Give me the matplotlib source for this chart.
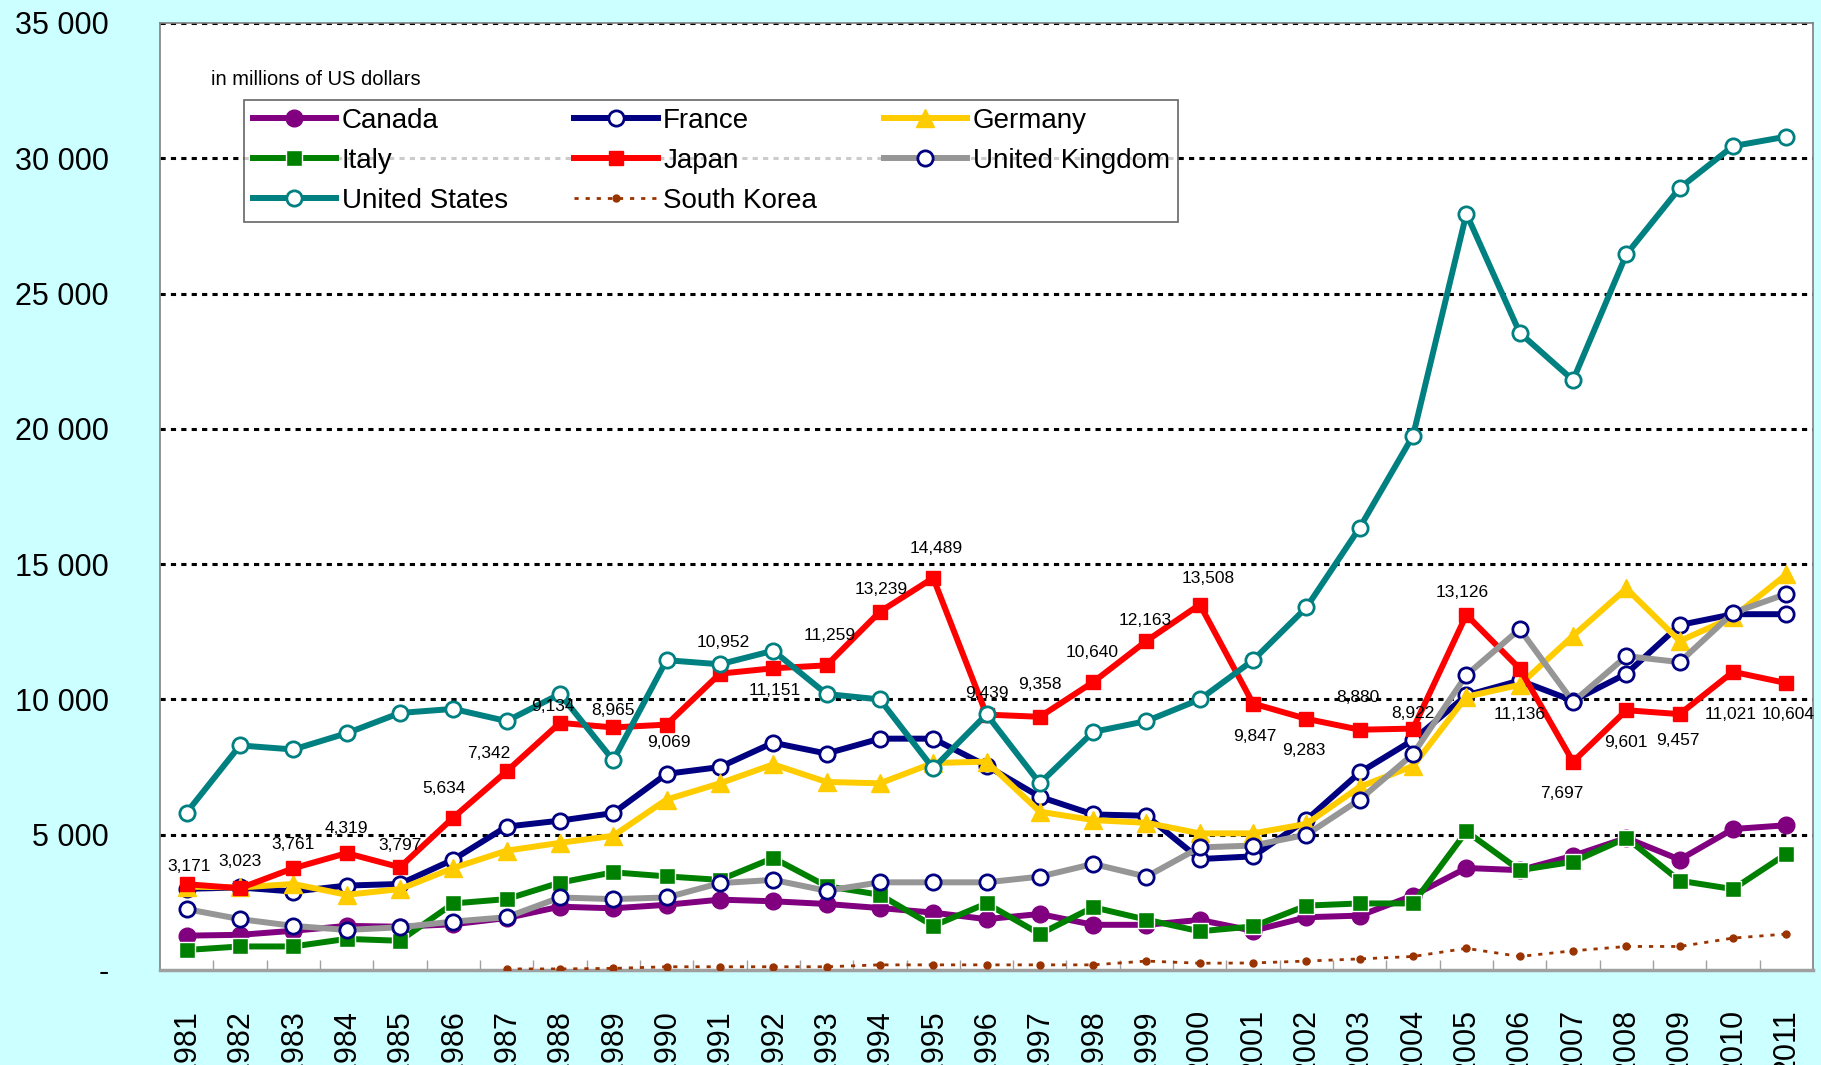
import numpy as np
import matplotlib
matplotlib.use("Agg")
import matplotlib.pyplot as plt
from matplotlib.ticker import FuncFormatter

plt.rcParams['font.family'] = ['Liberation Sans', 'DejaVu Sans']

# Data (in millions of US dollars)
years = list(range(1981, 2012))

canada = [1270, 1300, 1450, 1630, 1600, 1690, 1920, 2340, 2280, 2410, 2600, 2540, 2440, 2290, 2120, 1880,
          2070, 1670, 1670, 1850, 1450, 1950, 2010, 2750, 3770, 3690, 4220, 4880, 4080, 5210, 5350]
france = [3000, 3050, 2900, 3120, 3180, 4080, 5300, 5520, 5800, 7250, 7500, 8400, 8000, 8550, 8550, 7550,
          6400, 5750, 5700, 4100, 4200, 5550, 7300, 8500, 10150, 10700, 9950, 10950, 12750, 13150, 13150]
germany = [3080, 3050, 3180, 2780, 2990, 3770, 4410, 4700, 4960, 6300, 6900, 7600, 6950, 6900, 7650, 7700,
           5850, 5540, 5440, 5050, 5050, 5400, 6770, 7540, 10100, 10540, 12350, 14100, 12160, 13040, 14620]
italy = [740, 870, 870, 1150, 1080, 2460, 2620, 3230, 3610, 3460, 3330, 4140, 3100, 2780, 1630, 2460,
         1330, 2320, 1860, 1430, 1610, 2380, 2460, 2460, 5120, 3690, 4000, 4880, 3300, 2990, 4290]
japan = [3171, 3023, 3761, 4319, 3797, 5634, 7342, 9134, 8965, 9069, 10952, 11151, 11259, 13239, 14489, 9439,
         9358, 10640, 12163, 13508, 9847, 9283, 8880, 8922, 13126, 11136, 7697, 9601, 9457, 11021, 10604]
uk = [2250, 1880, 1630, 1480, 1580, 1790, 1950, 2680, 2620, 2680, 3210, 3330, 2930, 3240, 3240, 3240,
      3450, 3920, 3450, 4530, 4600, 5000, 6300, 7980, 10900, 12600, 9910, 11600, 11380, 13200, 13900]
us = [5820, 8300, 8150, 8750, 9500, 9650, 9200, 10200, 7750, 11450, 11300, 11800, 10200, 10000, 7450, 9450,
      6900, 8800, 9200, 10000, 11450, 13400, 16350, 19750, 27950, 23550, 21800, 26450, 28900, 30450, 30800]
# South Korea starts in 1987
korea_years = list(range(1987, 2012))
korea = [40, 40, 60, 120, 120, 120, 120, 190, 190, 190, 190, 190, 330, 250, 260, 330, 410, 500, 800, 500,
         710, 870, 870, 1180, 1330]

# where each Japan value label sits relative to its point (points)
japan_label_offsets = [(2, 12.5), (0, 19), (0, 17), (0, 18), (0, 16), (-7, 21), (-12.5, 12.5), (-5, 12),
                       (0, 12), (2, -13), (2.5, 22.5), (1, -16), (2, 21.7), (1, 16), (2.5, 21), (0, 15),
                       (0, 23), (-1, 21), (-1, 15), (6, 19), (1, -24), (-2, -22.5), (-1, 23), (0, 11),
                       (-3, 16), (0, -33), (-8, -23), (0, -23), (-1, -19), (-1.5, -31), (1, -22.5)]

BG = '#CCFFFF'
W, H = 1821, 1065

fig = plt.figure(figsize=(W / 100, H / 100), dpi=100, facecolor=BG)
ax = fig.add_axes([160 / W, 1 - 970 / H, (1813 - 160) / W, (970 - 23) / H])
ax.set_facecolor('white')

lw = 4.3
series = [
    ('Canada', canada, dict(color='#800080', marker='o', ms=12, mfc='#800080', mec='#800080')),
    ('France', france, dict(color='#000080', marker='o', ms=11, mfc='white', mec='#000080', mew=2)),
    ('Germany', germany, dict(color='#FFCC00', marker='^', ms=13, mfc='#FFCC00', mec='#FFCC00')),
    ('Italy', italy, dict(color='#008000', marker='s', ms=11, mfc='#008000', mec='white', mew=1)),
    ('Japan', japan, dict(color='#FF0000', marker='s', ms=10, mfc='#FF0000', mec='#FF0000')),
    ('United Kingdom', uk, dict(color='#969696', marker='o', ms=11, mfc='white', mec='#000080', mew=2)),
    ('United States', us, dict(color='#008080', marker='o', ms=11, mfc='white', mec='#008080', mew=2)),
]

handles = {}
for z, (name, vals, style) in enumerate(series):
    line, = ax.plot(years, vals, lw=lw, label=name, zorder=3 + z, **style)
    handles[name] = line

line, = ax.plot(korea_years, korea, color='#993300', lw=2, ls=(0, (1.5, 2.5)), marker='o', ms=5,
                label='South Korea', zorder=11)
handles['South Korea'] = line

# Japan value labels
for x, v, (dx, dy) in zip(years, japan, japan_label_offsets):
    ax.annotate(f"{v:,}", (x, v), xytext=(dx, dy), textcoords='offset points',
                ha='center', va='center', fontsize=12.5, zorder=20)

# Axes
ax.set_xlim(1980.5, 2011.5)
ax.set_ylim(0, 35000)
ax.set_yticks(range(0, 35001, 5000))
ax.yaxis.set_major_formatter(FuncFormatter(
    lambda v, p: '-' if v == 0 else f"{int(v):,}".replace(',', ' ')))
ax.tick_params(axis='y', length=0, pad=37, labelsize=22)

ax.set_xticks(years)
ax.set_xticklabels([str(y) for y in years], rotation=90)
ax.set_xticks(np.arange(1981.5, 2011.5, 1), minor=True)
ax.tick_params(axis='x', which='major', length=0, pad=28, labelsize=22)
ax.tick_params(axis='x', which='minor', direction='in', length=7, width=1, color='#A0A0A0')

for v in range(5000, 35001, 5000):
    ax.axhline(v, color='black', lw=2.2, ls=(0, (1.7, 1.7)), zorder=1)

for side in ['left', 'right', 'top']:
    ax.spines[side].set_color('#808080')
    ax.spines[side].set_linewidth(1.2)
ax.spines['bottom'].set_color('#A0A0A0')
ax.spines['bottom'].set_linewidth(2.5)

ax.text(0.031, 0.94, 'in millions of US dollars', transform=ax.transAxes, fontsize=14.5,
        ha='left', va='center')

# Legend filled row by row like the original
order = ['Canada', 'Italy', 'United States', 'France', 'Japan', 'South Korea', 'Germany', 'United Kingdom']
leg = ax.legend([handles[n] for n in order], order, loc='upper left', bbox_to_anchor=(0.051, 0.919),
                ncol=3, fontsize=20, frameon=True, fancybox=False, borderpad=0.3, labelspacing=0.5,
                handlelength=3.0, handletextpad=0.2, columnspacing=2.4, borderaxespad=0)
leg.get_frame().set_edgecolor('#404040')
leg.get_frame().set_linewidth(1.2)
leg.set_zorder(30)

plt.savefig('out.png', dpi=100, facecolor=BG)
